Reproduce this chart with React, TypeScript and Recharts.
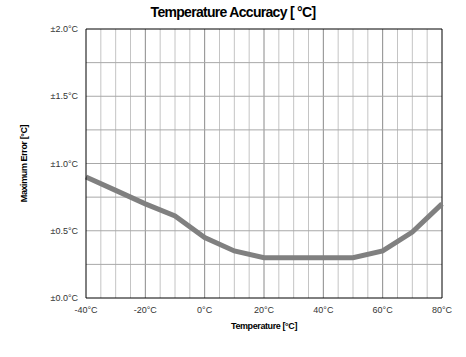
import { LineChart, Line, XAxis, YAxis, CartesianGrid, ReferenceLine } from 'recharts';

const temps = [-40, -30, -20, -10, 0, 10, 20, 30, 40, 50, 60, 70, 80];
const maxError = [0.9, 0.8, 0.7, 0.61, 0.45, 0.35, 0.3, 0.3, 0.3, 0.3, 0.35, 0.49, 0.7];
const xTicks = [-40, -20, 0, 20, 40, 60, 80];
const xMinor = [-35, -30, -25, -15, -10, -5, 5, 10, 15, 25, 30, 35, 45, 50, 55, 65, 70, 75];
const yTicks = [0, 0.5, 1.0, 1.5, 2.0];
const yGrid = [0.25, 0.5, 0.75, 1.0, 1.25, 1.5, 1.75];

const chartData = temps.map((t, i) => ({ temp: t, error: maxError[i] }));

const font = '"Liberation Sans", Arial, sans-serif';

export default function App() {
  return (
    <div style={{ position: 'absolute', left: 0, top: 0, width: 466, height: 357, background: '#fff', fontFamily: font }}>
      <div style={{ position: 'absolute', top: 4, width: 466, textAlign: 'center', fontWeight: 'bold', fontSize: 14, letterSpacing: -0.7, color: '#000' }}>
        Temperature Accuracy [ °C]
      </div>
      <LineChart width={466} height={357} data={chartData} margin={{ top: 29, right: 24, bottom: 26, left: 24 }}>
        <CartesianGrid horizontal={false} vertical={false} />
        <XAxis
          dataKey="temp"
          type="number"
          domain={[-40, 80]}
          ticks={xTicks}
          tickFormatter={(v) => `${v}°C`}
          tick={{ fontSize: 9, fill: '#333', fontFamily: font }}
          tickLine={false}
          axisLine={{ stroke: '#000' }}
          tickMargin={3}
          height={33}
          label={{ value: 'Temperature [°C]', position: 'insideBottom', offset: 2, style: { fontSize: 9, fontWeight: 'bold', fill: '#000', fontFamily: font, letterSpacing: -0.4 } }}
        />
        <YAxis
          type="number"
          domain={[0, 2]}
          ticks={yTicks}
          tickFormatter={(v) => `±${v.toFixed(1)}°C`}
          tick={{ fontSize: 9, fill: '#333', fontFamily: font }}
          tickLine={false}
          axisLine={{ stroke: '#000' }}
          width={62}
          tickMargin={2}
          label={{ value: 'Maximum Error [°C]', angle: -90, position: 'insideLeft', offset: 0, style: { fontSize: 9, fontWeight: 'bold', fill: '#000', fontFamily: font, textAnchor: 'middle', letterSpacing: -0.4 } }}
        />
        {xMinor.map((v) => (
          <ReferenceLine key={`xm${v}`} x={v} stroke="#c4c4c4" strokeWidth={1} />
        ))}
        {xTicks.slice(1, -1).map((v) => (
          <ReferenceLine key={`xM${v}`} x={v} stroke="#8a8a8a" strokeWidth={1} />
        ))}
        {yGrid.map((v) => (
          <ReferenceLine key={`y${v}`} y={v} stroke="#a8a8a8" strokeWidth={1} />
        ))}
        <ReferenceLine y={2} stroke="#000" strokeWidth={1} />
        <ReferenceLine x={80} stroke="#000" strokeWidth={1} />
        <Line
          dataKey="error"
          stroke="#808080"
          strokeWidth={5}
          dot={false}
          type="linear"
          isAnimationActive={false}
        />
      </LineChart>
    </div>
  );
}
